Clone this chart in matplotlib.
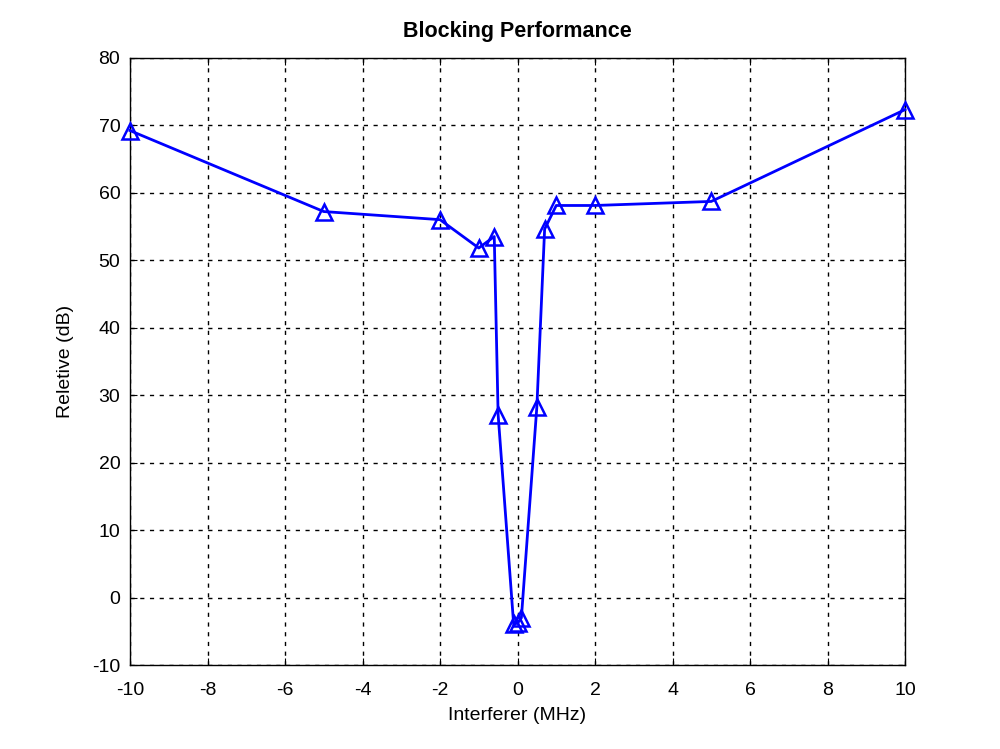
import matplotlib
matplotlib.use('Agg')
import matplotlib.pyplot as plt

plt.rcParams['font.family'] = ['Liberation Sans', 'DejaVu Sans']
plt.rcParams['axes.unicode_minus'] = False

# interferer offset (MHz) and relative level (dB)
offset = [-10, -5, -2, -1, -0.6, -0.5, -0.1, 0, 0.1, 0.5, 0.7, 1, 2, 5, 10]
relative = [69.2, 57.2, 56.0, 51.8, 53.5, 27.1, -3.9, -3.8, -3.0, 28.3, 54.6, 58.1, 58.1, 58.7, 72.3]

xticks = list(range(-10, 11, 2))
yticks = list(range(-10, 81, 10))

fig = plt.figure(figsize=(10, 7.49), dpi=100)
ax = fig.add_axes([0.13, 0.112, 0.775, 0.811])

ax.plot(offset, relative, color='#0000ff', linewidth=2, marker='^', markersize=11,
        markerfacecolor='none', markeredgecolor='#0000ff', markeredgewidth=1.8,
        clip_on=False, zorder=5)

ax.set_xlim(-10, 10)
ax.set_ylim(-10, 80)
ax.set_xticks(xticks)
ax.set_yticks(yticks)
ax.tick_params(direction='in', length=5, labelsize=14, top=True, right=True)
ax.tick_params(axis='x', pad=12)
ax.tick_params(axis='y', pad=7)
ax.grid(True, color='black', linestyle=(0, (3, 4)), linewidth=1)
for s in ax.spines.values():
    s.set_linewidth(1)

ax.set_title('Blocking Performance', fontsize=15.5, fontweight='bold', pad=15)
ax.set_xlabel('Interferer (MHz)', fontsize=14, labelpad=6)
ax.set_ylabel('Reletive (dB)', fontsize=14, labelpad=13)

fig.savefig('out.png', dpi=100)
